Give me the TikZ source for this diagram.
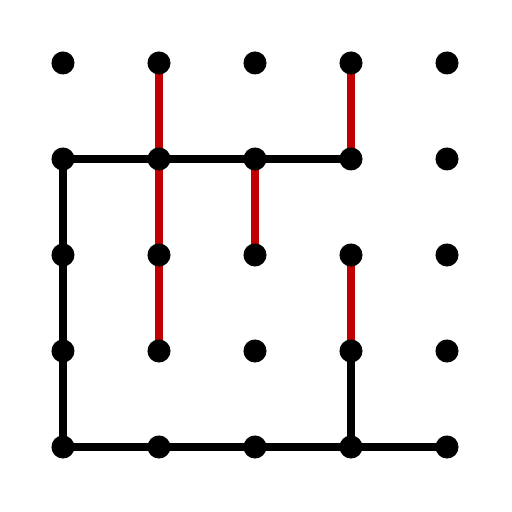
\documentclass[tikz,border=0pt]{standalone}
\usetikzlibrary{backgrounds}
\definecolor{cutred}{RGB}{192,0,0}
\tikzset{
  dot/.style={circle,fill=black,inner sep=0pt,minimum size=0.24cm},
  treeedge/.style={line width=0.083cm,black,line cap=round},
  cutedge/.style={line width=0.083cm,cutred,line cap=round}
}
\begin{document}
\begin{tikzpicture}[line join=round]
	\useasboundingbox (-0.656,-0.677) rectangle (4.677,4.656);
	\foreach \i in {0,...,4}
		\foreach \j in {0,...,4}
			\node[dot] (p-\i-\j) at (\i,\j) {};
	\begin{pgfonlayer}{background}
		% black path
		\draw[treeedge] (p-3-3.center)--(p-0-3.center)--(p-0-0.center)--(p-4-0.center);
		\draw[treeedge] (p-3-1.center)--(p-3-0.center);
		% red segments
		\draw[cutedge] (p-1-4.center)--(p-1-1.center);
		\draw[cutedge] (p-3-4.center)--(p-3-3.center);
		\draw[cutedge] (p-2-3.center)--(p-2-2.center);
		\draw[cutedge] (p-3-2.center)--(p-3-1.center);
	\end{pgfonlayer}
\end{tikzpicture}
\end{document}
